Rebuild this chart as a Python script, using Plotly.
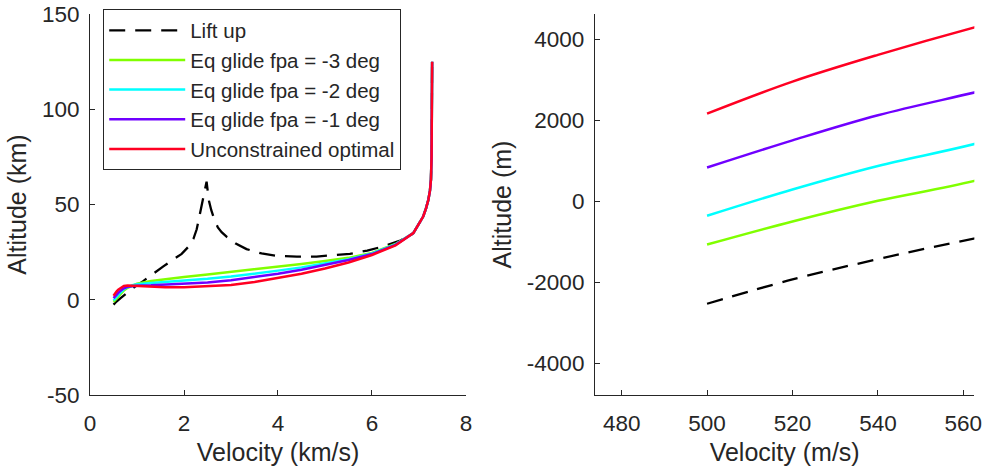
import plotly.graph_objects as go

# ---------------- data (velocity km/s, altitude km) ----------------
series_names = ["Lift up", "Eq glide fpa = -3 deg", "Eq glide fpa = -2 deg",
                "Eq glide fpa = -1 deg", "Unconstrained optimal"]

# common high-velocity tail (entry part, shared by all trajectories)
v_tail = [6.88, 7.00, 7.09, 7.15, 7.20, 7.235, 7.255, 7.268, 7.275, 7.28]
h_tail = [35.0, 40.0, 43.7, 48.0, 52.5, 57.5, 63.0, 75.0, 100.0, 125.0]

v_lift = [0.500, 0.520, 0.540, 0.563, 0.65, 0.78, 0.95, 1.13, 1.35, 1.56, 1.75,
          1.95, 2.10, 2.20, 2.27, 2.35, 2.41, 2.46, 2.48, 2.50, 2.53, 2.58, 2.64,
          2.72, 2.80, 2.91, 3.10, 3.33, 3.65, 3.97, 4.40, 4.82, 5.20, 5.53, 5.90,
          6.24, 6.60, 6.80]
h_lift = [-2.53, -1.93, -1.43, -0.91, 0.9, 3.5, 6.8, 9.8, 13.5, 17.5, 20.8,
          24.1, 28.0, 32.0, 37.0, 46.0, 53.0, 59.0, 62.0, 58.0, 52.0, 47.0, 42.5,
          38.0, 35.5, 33.0, 29.5, 26.6, 24.3, 23.1, 22.6, 22.7, 23.3, 24.1, 25.8,
          28.0, 31.1, 33.5]

v_glide = [0.500, 0.520, 0.540, 0.563, 0.60, 0.65, 0.72, 0.80, 0.90, 1.00, 1.30,
           1.60, 2.00, 2.50, 3.00, 3.50, 4.00, 4.50, 5.00, 5.50, 6.00, 6.50]
h_fpa3 = [-1.07, -0.50, 0.01, 0.51, 1.6, 3.1, 4.9, 6.3, 7.5, 8.4, 9.8,
          10.8, 12.0, 13.3, 14.6, 16.0, 17.4, 18.8, 20.3, 22.0, 24.6, 29.3]
h_fpa2 = [-0.36, 0.29, 0.87, 1.42, 2.5, 3.9, 5.5, 6.7, 7.6, 8.1, 8.8,
          9.3, 9.9, 11.0, 12.2, 13.6, 15.3, 17.0, 19.0, 21.3, 24.3, 29.0]
h_fpa1 = [0.83, 1.50, 2.12, 2.69, 3.6, 4.8, 6.0, 6.8, 7.2, 7.4, 7.6,
          7.9, 8.3, 9.1, 10.3, 11.9, 13.7, 15.8, 18.2, 20.9, 24.0, 28.8]

v_opt = [0.500, 0.520, 0.540, 0.563, 0.60, 0.65, 0.72, 0.80, 0.90, 1.00, 1.30,
         1.60, 2.00, 2.50, 3.00, 3.50, 4.00, 4.50, 5.00, 5.50, 6.00, 6.50]
h_opt = [2.16, 2.95, 3.61, 4.30, 5.3, 6.3, 7.2, 7.5, 7.4, 7.2, 6.8,
         6.6, 6.6, 7.0, 7.8, 9.3, 11.4, 13.7, 16.4, 19.6, 23.5, 28.5]

colors = ["#000000", "#80ff00", "#00ffff", "#7000ff", "#ff0022"]
dashes = ["16px,10px", "solid", "solid", "solid", "solid"]
widths = [2.3, 2.5, 2.5, 2.5, 2.5]

curves_v = [v_lift + v_tail, v_glide + v_tail, v_glide + v_tail,
            v_glide + v_tail, v_opt + v_tail]
curves_h = [h_lift + h_tail, h_fpa3 + h_tail, h_fpa2 + h_tail,
            h_fpa1 + h_tail, h_opt + h_tail]

# axis ticks
left_xticks = [0, 2, 4, 6, 8]
left_xlabels = ["0", "2", "4", "6", "8"]
left_yticks = [-50, 0, 50, 100, 150]
left_ylabels = ["-50", "0", "50", "100", "150"]
right_xticks = [480, 500, 520, 540, 560]
right_xlabels = ["480", "500", "520", "540", "560"]
right_yticks = [-4000, -2000, 0, 2000, 4000]
right_ylabels = ["-4000", "-2000", "0", "2000", "4000"]

TXT = "#262626"
FONT = "Liberation Sans, Arial, sans-serif"

fig = go.Figure()
for i, name in enumerate(series_names):
    fig.add_trace(go.Scatter(
        x=curves_v[i], y=curves_h[i], mode="lines", name=name,
        line=dict(color=colors[i], width=widths[i], dash=dashes[i]),
        xaxis="x", yaxis="y", showlegend=True))
for i, name in enumerate(series_names):
    fig.add_trace(go.Scatter(
        x=[v * 1000 for v in curves_v[i]], y=[h * 1000 for h in curves_h[i]],
        mode="lines", name=name,
        line=dict(color=colors[i], width=widths[i], dash=dashes[i],
                  shape="spline", smoothing=1.0),
        xaxis="x2", yaxis="y2", showlegend=False))

axis_common = dict(showgrid=False, zeroline=False, showline=True, linecolor=TXT,
                   linewidth=1.2, ticks="inside", ticklen=5, tickcolor=TXT,
                   tickwidth=1.2, mirror=False, automargin=False,
                   ticklabeloverflow="allow",
                   tickfont=dict(family=FONT, size=22.5, color=TXT))

TITLE_SIZE = 25

fig.update_layout(
    width=982, height=472,
    margin=dict(l=0, r=0, t=0, b=0),
    paper_bgcolor="white", plot_bgcolor="white",
    font=dict(family=FONT, color=TXT),
    xaxis=dict(domain=[0.0917, 0.4745], range=[0, 8], tickvals=left_xticks,
               ticktext=left_xlabels, anchor="y", ticklabelstandoff=8,
               title=dict(text="Velocity (km/s)", font=dict(size=TITLE_SIZE), standoff=8),
               **axis_common),
    yaxis=dict(domain=[0.1631, 0.9703], range=[-50, 150], tickvals=left_yticks,
               ticktext=left_ylabels, anchor="x", ticklabelstandoff=5,
               title=dict(text="Altitude (km)", font=dict(size=TITLE_SIZE), standoff=8),
               **axis_common),
    xaxis2=dict(domain=[0.6059, 0.9922], range=[473.76, 562.58], tickvals=right_xticks,
                ticktext=right_xlabels, anchor="y2", ticklabelstandoff=8,
                title=dict(text="Velocity (m/s)", font=dict(size=TITLE_SIZE), standoff=8),
                **axis_common),
    yaxis2=dict(domain=[0.1631, 0.9703], range=[-4781, 4617], tickvals=right_yticks,
                ticktext=right_ylabels, anchor="x2", ticklabelstandoff=5,
                title=dict(text="Altitude (m)", font=dict(size=TITLE_SIZE), standoff=8),
                **axis_common),
    legend=dict(x=0.1049, y=0.9803, xanchor="left", yanchor="top",
                bgcolor="white", bordercolor=TXT, borderwidth=1.2,
                font=dict(family=FONT, size=20.5, color=TXT),
                itemwidth=76, tracegroupgap=0),
)

fig.write_html("out.html")
